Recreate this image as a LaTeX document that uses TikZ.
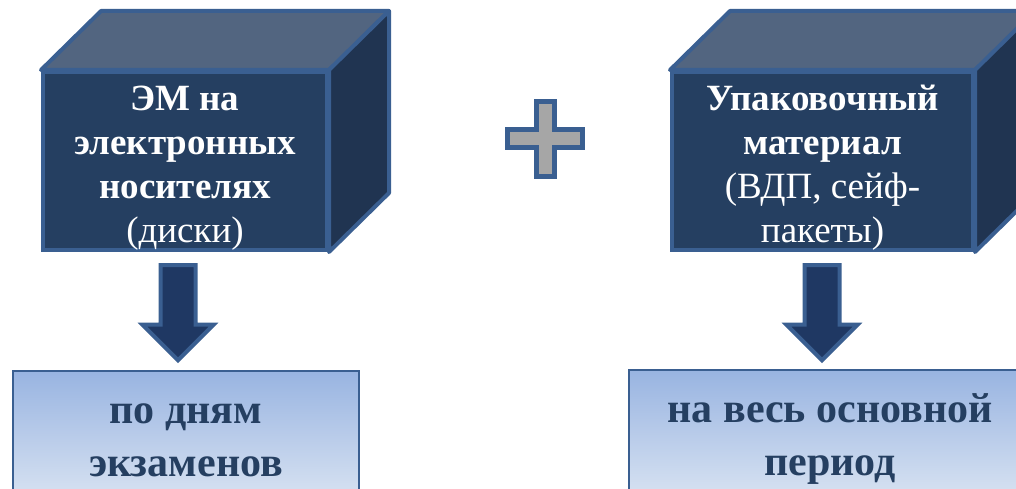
\documentclass[tikz,border=0pt]{standalone}
\usepackage{fontspec}
\setmainfont{Liberation Serif}
\usetikzlibrary{shapes.arrows,calc}

\definecolor{navyface}{RGB}{37,63,97}
\definecolor{navytop}{RGB}{82,101,128}
\definecolor{navyside}{RGB}{32,52,81}
\definecolor{edgeblue}{RGB}{58,95,145}
\definecolor{arrowfill}{RGB}{31,56,99}
\definecolor{plusgray}{RGB}{166,166,166}
\definecolor{boxtop}{RGB}{152,180,225}
\definecolor{boxbottom}{RGB}{221,230,243}
\definecolor{boxtext}{RGB}{37,63,97}

\begin{document}
\begin{tikzpicture}[x=1pt,y=1pt,
  cubefront/.style={draw=edgeblue,line width=4pt,fill=navyface,inner sep=0pt},
  cubetext/.style={text=white,align=center,inner sep=0pt,font=\fontsize{37}{44}\selectfont},
  cubeface/.style={draw=edgeblue,line width=4pt,line join=round},
  fatarrow/.style={single arrow,draw=edgeblue,line width=4pt,fill=arrowfill,
    shape border rotate=270,minimum height=95pt,inner sep=15.5pt,
    single arrow head extend=18pt},
  resultbox/.style={draw=edgeblue,line width=2.5pt,top color=boxtop,bottom color=boxbottom,
    text=boxtext,align=center,inner sep=0pt,minimum height=138pt,
    font=\bfseries\fontsize{42}{53}\selectfont}]
\clip (0,0) rectangle (1016,489);

\def\dx{60}
\def\dy{59}

% cube, left
\node[cubefront,minimum width=284pt,minimum height=178pt] (emfront) at (185,328) {};
\draw[cubeface,fill=navytop] (emfront.north west) -- ($(emfront.north west)+(\dx,\dy)$)
  -- ($(emfront.north east)+(\dx,\dy)$) -- (emfront.north east) -- cycle;
\draw[cubeface,fill=navyside] (emfront.north east) -- ($(emfront.north east)+(\dx,\dy)$)
  -- ($(emfront.south east)+(\dx,\dy)$) -- (emfront.south east) -- cycle;
\node[cubetext] (emtext) at ([yshift=-7pt]emfront.center)
  {\textbf{ЭМ на}\\\textbf{электронных}\\\textbf{носителях}\\(диски)};

% cube, right
\node[cubefront,minimum width=301pt,minimum height=178pt] (packfront) at (822.5,328) {};
\draw[cubeface,fill=navytop] (packfront.north west) -- ($(packfront.north west)+(\dx,\dy)$)
  -- ($(packfront.north east)+(\dx,\dy)$) -- (packfront.north east) -- cycle;
\draw[cubeface,fill=navyside] (packfront.north east) -- ($(packfront.north east)+(\dx,\dy)$)
  -- ($(packfront.south east)+(\dx,\dy)$) -- (packfront.south east) -- cycle;
\node[cubetext] (packtext) at ([yshift=-7pt]packfront.center)
  {\textbf{Упаковочный}\\\textbf{материал}\\(ВДП, сейф-\\пакеты)};

% plus
\coordinate (plus) at (545,350);
\draw[draw=edgeblue,line width=5pt,fill=plusgray] (plus) ++(-9,37.5) -- ++(18,0)
  -- ++(0,-28.5) -- ++(28.5,0) -- ++(0,-18) -- ++(-28.5,0) -- ++(0,-28.5)
  -- ++(-18,0) -- ++(0,28.5) -- ++(-28.5,0) -- ++(0,18) -- ++(28.5,0) -- cycle;

% results
\node[resultbox,minimum width=346pt] (daysbox) at (186,49) {по дням\\экзаменов};
\node[resultbox,minimum width=402pt] (periodbox) at (830,50) {на весь основной\\период};

% arrows
\node[fatarrow] (arrleft) at (178,185) {};
\node[fatarrow] (arrright) at (822,185) {};

\end{tikzpicture}
\end{document}
